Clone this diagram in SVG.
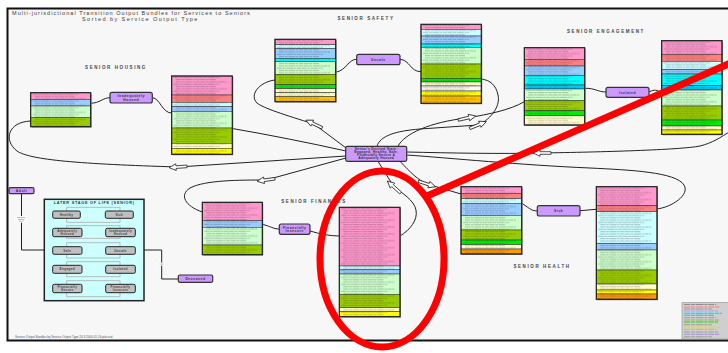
<svg xmlns="http://www.w3.org/2000/svg" xmlns:xlink="http://www.w3.org/1999/xlink" width="728" height="353" viewBox="0 0 728 353">
  <style>
    .bx{fill:none;stroke:#222;stroke-width:1.2}
    .sh{fill:#9a9a9a}
    .b{stroke:#333;stroke-width:.5}
    .pk{fill:#ff99cc}.sa{fill:#ff8080}.lc{fill:#ccffff}.lb{fill:#99ccff}
    .cy{fill:#00ffff}.ds{fill:#00ccff}.lg{fill:#ccffcc}.ol{fill:#99cc00}
    .gr{fill:#00ee00}.py{fill:#ffffcc}.ye{fill:#ffff00}.or{fill:#ffc000}
    .o2{fill:#ff9900}.wh{fill:#fbfbf2}
    .tx{fill:url(#txt)}
    .st{fill:#cc99ff;stroke:#333;stroke-width:1.2}
    .ls{fill:#c0c0c0;stroke:#222;stroke-width:1}
    .pr{fill:none;stroke:#b4b4b4;stroke-width:.9}
    .c{fill:none;stroke:#222;stroke-width:1}
    text{font-family:"Liberation Sans",Arial,sans-serif;fill:#333}
    .t1{font-size:5.5px;letter-spacing:1.05px;fill:#3a3a3a}
    .sec{font-size:4.5px;font-weight:bold;letter-spacing:1.6px;fill:#444;text-anchor:middle}
    .nl{font-size:3.4px;font-weight:bold;letter-spacing:.55px;text-anchor:middle;fill:#333}
    .il{font-size:3.1px;font-weight:bold;letter-spacing:.35px;text-anchor:middle;fill:#444}
    .red{fill:none;stroke:#ff0000;stroke-width:7}
  </style>
  <defs>
    <!-- faint rows standing in for the small print inside each bundle -->
    <pattern id="txt" width="60" height="6.9" patternUnits="userSpaceOnUse">
      <path d="M2 1.3H48M4 3.6H44M4 5.9H55" stroke="#302030" stroke-opacity=".52" stroke-width=".55" stroke-dasharray="5 .7 3 .7 7 .7 2 .7 4 .7"/>
    </pattern>
    <!-- hollow block arrow, pointing along +x -->
    <path id="ba" d="M-9,-1.3H2V-3.3L9,0L2,3.3V1.3H-9Z" fill="#fff" stroke="#222" stroke-width=".8"/>
  </defs>

  <rect width="728" height="353" fill="#ffffff"/>
  <rect x="7.5" y="8.5" width="740" height="332" fill="#f7f7f7" stroke="#111" stroke-width="2"/>

  <text class="t1" x="12" y="15">Multi-jurisdictional Transition Output Bundles for Services to Seniors</text>
  <text class="t1" x="82" y="20.5" style="letter-spacing:1.45px">Sorted by Service Output Type</text>

  <text class="sec" x="116" y="69">SENIOR HOUSING</text>
  <text class="sec" x="366" y="20">SENIOR SAFETY</text>
  <text class="sec" x="606" y="33">SENIOR ENGAGEMENT</text>
  <text class="sec" x="314" y="203">SENIOR FINANCES</text>
  <text class="sec" x="542" y="268">SENIOR HEALTH</text>

  <!-- connectors -->
  <g id="connectors">
    <path class="c" d="M30.7,121 C8,122 3,140 17,151 C30,160 80,164 178,167 L346,156"/>
    <path class="c" d="M232.3,128.5 C270,135 310,143 346,151"/>
    <path class="c" d="M202.3,212 C185,206 179,195 190,188 C205,180 240,180 266,180 L346,158"/>
    <path class="c" d="M275,80 C259,82 249,95 257,103 C263,108 285,115 314,124 L346,148"/>
    <path class="c" d="M377,146.3 C380,136 395,131 420,129 L478,125 C488,121 501,108 498,95 C496,85 490,80 481.3,79"/>
    <path class="c" d="M398,146.3 C404,134 430,122 467,118 C490,114 510,110 524.3,101.7"/>
    <path class="c" d="M406.7,152 C450,153 500,154 542,153 C600,152 680,150 700,146 C712,143 720,138 732,130"/>
    <path class="c" d="M657,209 C672,207 690,195 684,185 C676,172 630,170 590,168 C520,165 450,158 406.7,155"/>
    <path class="c" d="M400,161.3 C410,172 418,180 427,184 L461,194"/>
    <path class="c" d="M400,236 C410,230 418,220 416,210 C414,200 402,193 394,187 L378,161.3"/>

    <path class="c" d="M90.7,103.3 C100,103 103,97.7 110,97.7"/>
    <path class="c" d="M152.3,97.7 C160,98 162,113 171.7,113"/>
    <path class="c" d="M335.7,72.3 C347,70 348,59.3 356.7,59.3"/>
    <path class="c" d="M400,59.3 C410,60 410,71.7 421,71.7"/>
    <path class="c" d="M584.7,88.3 C595,88 598,92 606,92"/>
    <path class="c" d="M649,92 C655,89 657,90 661.7,93"/>
    <path class="c" d="M262.3,224.3 C270,226 273,229 279.3,229"/>
    <path class="c" d="M310,231 C320,234 330,236 339.3,236"/>
    <path class="c" d="M521.7,203.3 C528,207 531,211 537.3,211"/>
    <path class="c" d="M580,210.7 L596.3,209.3"/>

    <path class="c" d="M21.5,193.7 V250 H44.3"/>
    <path class="c" d="M144,250 H161.7 V279 H178.3"/>
    <rect x="15.7" y="216" width="11" height="6.7" fill="#fff"/>
    <path d="M17 217.6H25.4M18 219.4H24.6M19 221.1H23.6" stroke="#666" stroke-width=".45"/>
    <rect x="158.3" y="262.6" width="6.5" height="3" fill="#fff"/>
    <path d="M159.3 264.1H163.8" stroke="#666" stroke-width=".45"/>

    <use xlink:href="#ba" transform="translate(178,167) rotate(176)"/>
    <use xlink:href="#ba" transform="translate(266,180) rotate(172)"/>
    <use xlink:href="#ba" transform="translate(314,124) rotate(205)"/>
    <use xlink:href="#ba" transform="translate(478,125) rotate(-22)"/>
    <use xlink:href="#ba" transform="translate(467,118) rotate(-13)"/>
    <use xlink:href="#ba" transform="translate(542,153) rotate(180)"/>
    <use xlink:href="#ba" transform="translate(394,187) rotate(222)"/>
    <use xlink:href="#ba" transform="translate(427,184) rotate(18)"/>
  </g>

  <!-- housing bundles -->
  <g id="housing-left" transform="translate(30.7,92.7)">
    <rect class="sh" x="1" y="1" width="60" height="34"/>
    <rect class="pk b" width="60" height="6.6"/>
    <rect class="lb b" y="6.6" width="60" height="6.7"/>
    <rect class="lg b" y="13.3" width="60" height="11.3"/>
    <rect class="ol b" y="24.6" width="60" height="9.4"/>
    <rect class="tx" width="60" height="34"/>
    <rect class="bx" width="60" height="34"/>
  </g>
  <g id="housing-right" transform="translate(171.7,76)">
    <rect class="sh" x="1" y="1" width="60.6" height="78.3"/>
    <rect class="pk b" width="60.6" height="19"/>
    <rect class="sa b" y="19" width="60.6" height="7.3"/>
    <rect class="lc b" y="26.3" width="60.6" height="4.4"/>
    <rect class="lb b" y="30.7" width="60.6" height="4.6"/>
    <rect class="lg b" y="35.3" width="60.6" height="16.7"/>
    <rect class="ol b" y="52" width="60.6" height="15.3"/>
    <rect class="py b" y="67.3" width="60.6" height="5"/>
    <rect class="ye b" y="72.3" width="60.6" height="6"/>
    <rect class="tx" width="60.6" height="78.3"/>
    <rect class="bx" width="60.6" height="78.3"/>
  </g>

  <!-- safety bundles -->
  <g id="safety-left" transform="translate(275,39.3)">
    <rect class="sh" x="1" y="1" width="60.7" height="62.4"/>
    <rect class="pk b" width="60.7" height="5.4"/>
    <rect class="lc b" y="5.4" width="60.7" height="4"/>
    <rect class="lb b" y="9.4" width="60.7" height="9.6"/>
    <rect class="cy b" y="19" width="60.7" height="3.4"/>
    <rect class="lg b" y="22.4" width="60.7" height="12.6"/>
    <rect class="ol b" y="35" width="60.7" height="10.4"/>
    <rect class="gr b" y="45.4" width="60.7" height="4"/>
    <rect class="py b" y="49.4" width="60.7" height="4"/>
    <rect class="py b" y="53.4" width="60.7" height="4"/>
    <rect class="or b" y="57.4" width="60.7" height="5"/>
    <rect class="tx" width="60.7" height="62.4"/>
    <rect class="bx" width="60.7" height="62.4"/>
  </g>
  <g id="safety-right" transform="translate(421,24.3)">
    <rect class="sh" x="1" y="1" width="60.3" height="79"/>
    <rect class="pk b" width="60.3" height="5"/>
    <rect class="lc b" y="5" width="60.3" height="6.7"/>
    <rect class="lb b" y="11.7" width="60.3" height="8"/>
    <rect class="cy b" y="19.7" width="60.3" height="3.3"/>
    <rect class="lg b" y="23" width="60.3" height="16.7"/>
    <rect class="ol b" y="39.7" width="60.3" height="14.3"/>
    <rect class="gr b" y="54" width="60.3" height="3.7"/>
    <rect class="py b" y="57.7" width="60.3" height="4"/>
    <rect class="wh b" y="61.7" width="60.3" height="5"/>
    <rect class="ye b" y="66.7" width="60.3" height="5"/>
    <rect class="or b" y="71.7" width="60.3" height="7.3"/>
    <rect class="tx" width="60.3" height="79"/>
    <rect class="bx" width="60.3" height="79"/>
  </g>

  <!-- engagement bundles -->
  <g id="engagement-left" transform="translate(524.3,47.7)">
    <rect class="sh" x="1" y="1" width="60.4" height="77.3"/>
    <rect class="pk b" width="60.4" height="11.6"/>
    <rect class="sa b" y="11.6" width="60.4" height="6.7"/>
    <rect class="lb b" y="18.3" width="60.4" height="9.3"/>
    <rect class="cy b" y="27.6" width="60.4" height="9.7"/>
    <rect class="ds b" y="37.3" width="60.4" height="4"/>
    <rect class="lg b" y="41.3" width="60.4" height="11.7"/>
    <rect class="ol b" y="53" width="60.4" height="10"/>
    <rect class="gr b" y="63" width="60.4" height="5"/>
    <rect class="py b" y="68" width="60.4" height="9.3"/>
    <rect class="tx" width="60.4" height="77.3"/>
    <rect class="bx" width="60.4" height="77.3"/>
  </g>
  <g id="engagement-right" transform="translate(661.7,40.7)">
    <rect class="sh" x="1" y="1" width="60.3" height="93.6"/>
    <rect class="pk b" width="60.3" height="13.6"/>
    <rect class="sa b" y="13.6" width="60.3" height="7"/>
    <rect class="lc b" y="20.6" width="60.3" height="8"/>
    <rect class="lb b" y="28.6" width="60.3" height="4.7"/>
    <rect class="cy b" y="33.3" width="60.3" height="11.7"/>
    <rect class="ds b" y="45" width="60.3" height="4.3"/>
    <rect class="lg b" y="49.3" width="60.3" height="16"/>
    <rect class="ol b" y="65.3" width="60.3" height="14"/>
    <rect class="gr b" y="79.3" width="60.3" height="6"/>
    <rect class="py b" y="85.3" width="60.3" height="4"/>
    <rect class="ye b" y="89.3" width="60.3" height="4.3"/>
    <rect class="tx" width="60.3" height="93.6"/>
    <rect class="bx" width="60.3" height="93.6"/>
  </g>

  <!-- finance bundles -->
  <g id="finance-left" transform="translate(202.3,202.3)">
    <rect class="sh" x="1" y="1" width="60" height="52.4"/>
    <rect class="pk b" width="60" height="18.4"/>
    <rect class="lb b" y="18.4" width="60" height="6.6"/>
    <rect class="lg b" y="25" width="60" height="17.7"/>
    <rect class="ol b" y="42.7" width="60" height="9.7"/>
    <rect class="tx" width="60" height="52.4"/>
    <rect class="bx" width="60" height="52.4"/>
  </g>
  <g id="finance-right" transform="translate(339.3,207.3)">
    <rect class="sh" x="1" y="1" width="60.7" height="109.4"/>
    <rect class="pk b" width="60.7" height="58.7"/>
    <rect class="lc b" y="58.7" width="60.7" height="3.3"/>
    <rect class="lb b" y="62" width="60.7" height="4.7"/>
    <rect class="lg b" y="66.7" width="60.7" height="20.3"/>
    <rect class="ol b" y="87" width="60.7" height="13.4"/>
    <rect class="py b" y="100.4" width="60.7" height="4"/>
    <rect class="ye b" y="104.4" width="60.7" height="5"/>
    <rect class="tx" width="60.7" height="109.4"/>
    <rect class="bx" width="60.7" height="109.4"/>
  </g>

  <!-- health bundles -->
  <g id="health-left" transform="translate(461,186.7)">
    <rect class="sh" x="1" y="1" width="60.7" height="67.3"/>
    <rect class="pk b" width="60.7" height="6.6"/>
    <rect class="sa b" y="6.6" width="60.7" height="5.4"/>
    <rect class="lc b" y="12" width="60.7" height="4.6"/>
    <rect class="lb b" y="16.6" width="60.7" height="12"/>
    <rect class="lg b" y="28.6" width="60.7" height="14.7"/>
    <rect class="ol b" y="43.3" width="60.7" height="10"/>
    <rect class="gr b" y="53.3" width="60.7" height="4.7"/>
    <rect class="py b" y="58" width="60.7" height="4.3"/>
    <rect class="o2 b" y="62.3" width="60.7" height="5"/>
    <rect class="tx" width="60.7" height="67.3"/>
    <rect class="bx" width="60.7" height="67.3"/>
  </g>
  <g id="health-right" transform="translate(596.3,186.7)">
    <rect class="sh" x="1" y="1" width="60.7" height="112.6"/>
    <rect class="pk b" width="60.7" height="19"/>
    <rect class="sa b" y="19" width="60.7" height="6"/>
    <rect class="lc b" y="25" width="60.7" height="31.6"/>
    <rect class="lb b" y="56.6" width="60.7" height="6.7"/>
    <rect class="lg b" y="63.3" width="60.7" height="20"/>
    <rect class="ol b" y="83.3" width="60.7" height="14"/>
    <rect class="py b" y="97.3" width="60.7" height="6"/>
    <rect class="ye b" y="103.3" width="60.7" height="4"/>
    <rect class="o2 b" y="107.3" width="60.7" height="5.3"/>
    <rect class="tx" width="60.7" height="112.6"/>
    <rect class="bx" width="60.7" height="112.6"/>
  </g>

  <!-- state nodes -->
  <g id="inadequately-housed">
    <rect class="st" x="110" y="92.3" width="42.3" height="10.7" rx="2"/>
    <text class="nl" x="131.2" y="97">Inadequately</text>
    <text class="nl" x="131.2" y="100.8">Housed</text>
  </g>
  <g id="unsafe">
    <rect class="st" x="356.7" y="54.3" width="43.3" height="10.4" rx="2"/>
    <text class="nl" x="378.3" y="60.7">Unsafe</text>
  </g>
  <g id="isolated">
    <rect class="st" x="606" y="87.3" width="43" height="10" rx="2"/>
    <text class="nl" x="627.5" y="93.5">Isolated</text>
  </g>
  <g id="financially-insecure">
    <rect class="st" x="279.3" y="224" width="30.7" height="10.3" rx="2"/>
    <text class="nl" x="294.7" y="228.5">Financially</text>
    <text class="nl" x="294.7" y="232.3">Insecure</text>
  </g>
  <g id="sick">
    <rect class="st" x="537.3" y="205.7" width="42.7" height="10.3" rx="2"/>
    <text class="nl" x="558.7" y="212">Sick</text>
  </g>
  <g id="adult">
    <rect class="st" x="9" y="187.7" width="25" height="6" rx="1.5"/>
    <text class="nl" x="21.5" y="192">Adult</text>
  </g>
  <g id="deceased">
    <rect class="st" x="178.3" y="275" width="34.4" height="7.3" rx="1.5"/>
    <text class="nl" x="195.5" y="280">Deceased</text>
  </g>
  <g id="desired-state">
    <rect class="st" x="345.7" y="146.3" width="61" height="15" rx="1.5"/>
    <text class="nl" x="376.2" y="149.6" style="letter-spacing:.25px">Senior's Desired State:</text>
    <text class="nl" x="376.2" y="152.8" style="letter-spacing:.25px">Engaged, Healthy, Safe,</text>
    <text class="nl" x="376.2" y="156" style="letter-spacing:.25px">Financially Secure &amp;</text>
    <text class="nl" x="376.2" y="159.2" style="letter-spacing:.25px">Adequately Housed</text>
  </g>

  <!-- later stage of life -->
  <g id="later-stage">
    <rect x="44.3" y="199.3" width="99.7" height="101.4" fill="#ccffff" stroke="#222" stroke-width="1.5"/>
    <text x="94.2" y="203.6" style="font-size:3.8px;font-weight:bold;letter-spacing:.75px;text-anchor:middle;fill:#333">LATER STAGE OF LIFE (SENIOR)</text>
    <rect class="pr" x="66.7" y="207.3" width="53.3" height="15"/>
    <rect class="pr" x="66.7" y="225.7" width="53.3" height="12.6"/>
    <rect class="pr" x="66.7" y="242.7" width="53.3" height="15.3"/>
    <rect class="pr" x="66.7" y="261.7" width="53.3" height="15"/>
    <rect class="pr" x="66.7" y="280.7" width="53.3" height="16"/>
    <g id="ls-healthy"><rect class="ls" x="52.7" y="211" width="27.6" height="7.3" rx="1.5"/><text class="il" x="66.5" y="215.8">Healthy</text></g>
    <g id="ls-sick"><rect class="ls" x="105.3" y="211" width="28" height="7.3" rx="1.5"/><text class="il" x="119.3" y="215.8">Sick</text></g>
    <g id="ls-housed"><rect class="ls" x="52.7" y="228.3" width="29.3" height="8.4" rx="1.5"/><text class="il" x="67.3" y="232">Adequately</text><text class="il" x="67.3" y="235.3">Housed</text></g>
    <g id="ls-inhoused"><rect class="ls" x="105.7" y="228.3" width="29.6" height="8.4" rx="1.5"/><text class="il" x="120.5" y="232">Inadequately</text><text class="il" x="120.5" y="235.3">Housed</text></g>
    <g id="ls-safe"><rect class="ls" x="52.7" y="246.7" width="29.3" height="7.6" rx="1.5"/><text class="il" x="67.3" y="251.6">Safe</text></g>
    <g id="ls-unsafe"><rect class="ls" x="105.7" y="246.7" width="29.6" height="7.6" rx="1.5"/><text class="il" x="120.5" y="251.6">Unsafe</text></g>
    <g id="ls-engaged"><rect class="ls" x="52.7" y="265.3" width="29.3" height="8" rx="1.5"/><text class="il" x="67.3" y="270.4">Engaged</text></g>
    <g id="ls-isolated"><rect class="ls" x="105.7" y="265.3" width="29.6" height="8" rx="1.5"/><text class="il" x="120.5" y="270.4">Isolated</text></g>
    <g id="ls-secure"><rect class="ls" x="52.7" y="284.3" width="29.3" height="8.4" rx="1.5"/><text class="il" x="67.3" y="288">Financially</text><text class="il" x="67.3" y="291.3">Secure</text></g>
    <g id="ls-insecure"><rect class="ls" x="105.7" y="284.3" width="29.6" height="8.4" rx="1.5"/><text class="il" x="120.5" y="288">Financially</text><text class="il" x="120.5" y="291.3">Insecure</text></g>
  </g>

  <!-- colour key -->
  <g id="key">
    <rect x="682" y="302.7" width="50" height="36.3" fill="#cfcfcf" stroke="#8a8a8a" stroke-width=".6"/>
    <g stroke-width="1.1" stroke-dasharray="6 .8 4 .8 8 .8 3 .8">
      <path d="M684 304.5H716" stroke="#8c8c8c"/>
      <path d="M684 307H720" stroke="#ff7f7f"/>
      <path d="M684 309H712" stroke="#9d9d9d"/>
      <path d="M684 311H718" stroke="#b9a0e6"/>
      <path d="M684 313.4H722" stroke="#00e5ff"/>
      <path d="M684 315.2H714" stroke="#00ccff"/>
      <path d="M684 317.8H716" stroke="#9d9d9d"/>
      <path d="M684 320H720" stroke="#8fbf3f"/>
      <path d="M684 322H718" stroke="#22cc22"/>
      <path d="M684 324.7H712" stroke="#9d9d9d"/>
      <path d="M684 327.3H720" stroke="#e6e600"/>
      <path d="M684 329.4H716" stroke="#ffbb00"/>
      <path d="M684 332H718" stroke="#9d9d9d"/>
      <path d="M684 334.2H720" stroke="#a88be0"/>
      <path d="M684 336.7H712" stroke="#9d9d9d"/>
    </g>
  </g>

  <text x="15" y="338.4" style="font-size:3px;fill:#555">Service Output Bundles by Service Output Type 20.3 2004-01-16.plot.vsd</text>

  <!-- red mark-up -->
  <g id="markup">
    <ellipse class="red" cx="382" cy="259" rx="62" ry="88"/>
    <path class="red" d="M427,196 L735,61"/>
  </g>
</svg>
